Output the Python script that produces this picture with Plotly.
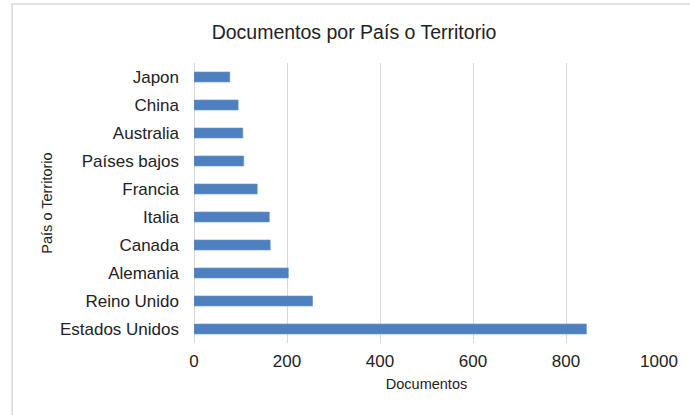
import plotly.graph_objects as go

countries = ["Estados Unidos", "Reino Unido", "Alemania", "Canada", "Italia",
             "Francia", "Países bajos", "Australia", "China", "Japon"]
documents = [844, 255, 203, 164, 162, 136, 107, 105, 95, 77]
x_ticks = [0, 200, 400, 600, 800, 1000]

FONT = "Liberation Sans, Arial, sans-serif"

fig = go.Figure(go.Bar(
    x=documents, y=countries, orientation="h",
    marker=dict(color="#4e7fbe", line=dict(color="#6f98cc", width=0.6)),
))

fig.update_layout(
    width=690, height=415,
    margin=dict(l=194, r=28, t=63, b=72),
    paper_bgcolor="white", plot_bgcolor="white",
    bargap=0.64,
    showlegend=False,
    title=dict(text="Documentos por País o Territorio", x=0.513, xanchor="center",
               y=0.922, yanchor="middle",
               font=dict(family=FONT, size=19.5, color="#222222")),
    font=dict(family=FONT, color="#222222"),
    xaxis=dict(range=[0, 1000], tickvals=x_ticks, ticktext=[str(v) for v in x_ticks],
               showgrid=True, gridcolor="#d9d9d9", gridwidth=1,
               zeroline=True, zerolinecolor="#d9d9d9", zerolinewidth=1,
               showline=False, ticks="",
               tickfont=dict(size=17, color="#222222"),
               ticklabelstandoff=6,
               title=dict(text="Documentos", font=dict(size=14.5, color="#222222"), standoff=8),
               fixedrange=True),
    yaxis=dict(showgrid=False, zeroline=False, showline=False, ticks="",
               tickfont=dict(size=17, color="#222222"),
               ticklabelstandoff=14,
               title=dict(text="País o Territorio", font=dict(size=14.5, color="#222222"), standoff=3),
               fixedrange=True),
    shapes=[dict(type="rect", xref="paper", yref="paper",
                 x0=(11 - 194) / 468, x1=(720 - 194) / 468,
                 y0=(72 - 430) / 280, y1=(415 - 4 - 72) / 280,
                 line=dict(color="#d9d9d9", width=1.5), layer="below")],
)

fig.write_html("out.html")
